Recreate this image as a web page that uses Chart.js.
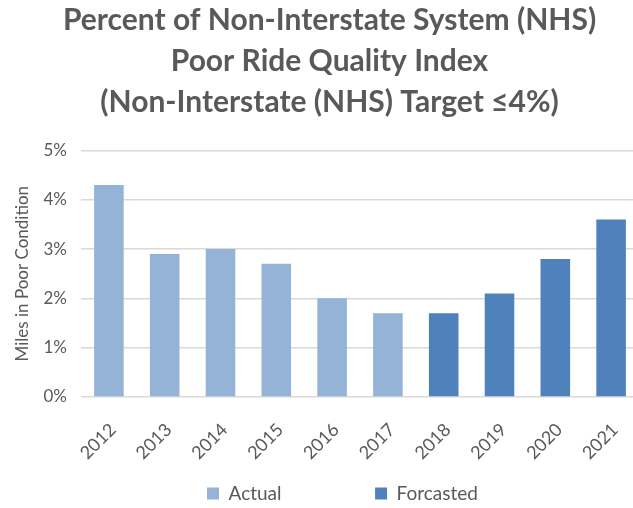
<!DOCTYPE html>
<html>
<head>
<meta charset="utf-8">
<script src="https://cdn.jsdelivr.net/npm/chart.js@4"></script>
<style>
  html, body { margin: 0; padding: 0; background: #fff; overflow: hidden; }
  #wrap { width: 633px; height: 508px; overflow: hidden; }
</style>
</head>
<body>
<div id="wrap"><canvas id="chart" width="660" height="508"></canvas></div>
<script>
var years = ['2012', '2013', '2014', '2015', '2016', '2017', '2018', '2019', '2020', '2021'];
var actual = [4.3, 2.9, 3.0, 2.7, 2.0, 1.7, null, null, null, null];
var forcasted = [null, null, null, null, null, null, 1.7, 2.1, 2.8, 3.6];
var titleLines = ['Percent of Non-Interstate System (NHS)', 'Poor Ride Quality Index', '(Non-Interstate (NHS) Target \u22644%)'];

var grey = '#595959';
var font = 'Lato';

// nudge title and legend sideways, the excel chart is not centred on the canvas
var shiftBoxes = {
  id: 'shiftBoxes',
  afterLayout: function(chart, args, opts) {
    chart.titleBlock.left += opts.title;
    chart.titleBlock.right += opts.title;
    chart.legend.left += opts.legend;
    chart.legend.right += opts.legend;
  }
};

var ctx = document.getElementById('chart').getContext('2d');

var myChart = new Chart(ctx, {
  type: 'bar',
  data: {
    labels: years,
    datasets: [{
      label: 'Actual',
      data: actual,
      backgroundColor: '#95B3D7',
      categoryPercentage: 0.53,
      barPercentage: 1
    }, {
      label: 'Forcasted',
      data: forcasted,
      backgroundColor: '#4F81BD',
      categoryPercentage: 0.53,
      barPercentage: 1
    }]
  },
  plugins: [shiftBoxes],
  options: {
    responsive: false,
    animation: false,
    skipNull: true,
    layout: { padding: { left: 8, right: 21, top: 0, bottom: 0 } },
    plugins: {
      shiftBoxes: { title: 6, legend: 19 },
      title: {
        display: true,
        text: titleLines,
        color: grey,
        font: { family: font, size: 30, weight: 'bold', lineHeight: 1.36 },
        padding: { top: 0, bottom: 28 }
      },
      legend: {
        position: 'bottom',
        maxHeight: 30,
        labels: {
          color: grey,
          font: { family: font, size: 19 },
          boxWidth: 12,
          boxHeight: 12,
          padding: 6,
          generateLabels: function(chart) {
            var items = Chart.defaults.plugins.legend.labels.generateLabels(chart);
            items[0].text = items[0].text + '                  ';
            return items;
          }
        }
      },
      tooltip: { enabled: false }
    },
    scales: {
      x: {
        afterFit: function(s) { s.height = 81; },
        grid: { display: false, drawTicks: false },
        border: { display: false },
        ticks: {
          color: grey,
          font: { family: font, size: 18 },
          padding: 22,
          labelOffset: 4,
          maxRotation: 45,
          minRotation: 45
        }
      },
      y: {
        min: 0,
        max: 5,
        afterFit: function(s) { s.width = 73; },
        ticks: {
          stepSize: 1,
          color: grey,
          font: { family: font, size: 17 },
          padding: 14,
          callback: function(value) { return value + '%'; }
        },
        grid: { color: '#d9d9d9', lineWidth: 1.5, drawTicks: false },
        border: { display: false },
        title: {
          display: true,
          text: 'Miles in Poor Condition',
          color: grey,
          font: { family: font, size: 17 }
        }
      }
    }
  }
});
</script>
</body>
</html>
